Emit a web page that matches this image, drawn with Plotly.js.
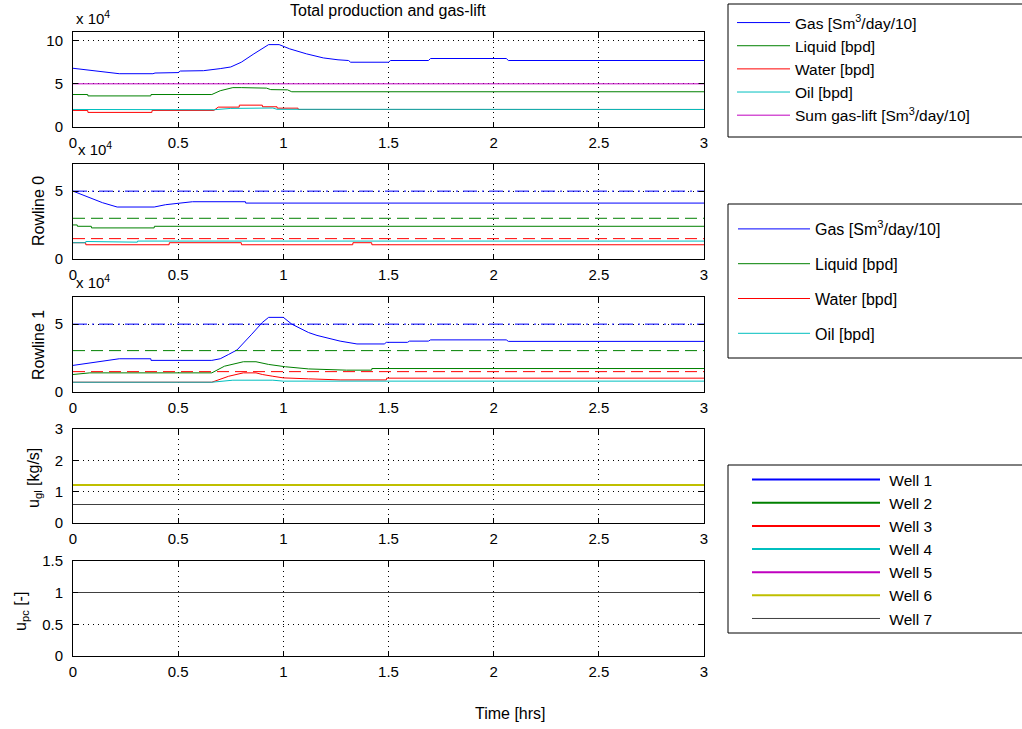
<!DOCTYPE html>
<html>
<head>
<meta charset="utf-8">
<script src="https://cdn.plot.ly/plotly-3.0.1.min.js"></script>
<style>
html,body{margin:0;padding:0;background:#fff;}
#chart{width:1022px;height:729px;}
#chart .x4y4 .scatterlayer path.js-line, #chart .x5y5 .scatterlayer path.js-line{shape-rendering:crispEdges;}
</style>
</head>
<body>
<div id="chart"></div>
<script>
// ---------- DATA (production values in units of 10^4) ----------
// Panel 1: Total production and gas-lift
var totGasT = [0, 0.045, 0.14, 0.22, 0.38, 0.39, 0.5, 0.51, 0.62, 0.66, 0.7, 0.75, 0.8, 0.86, 0.93, 0.98, 1.03, 1.11, 1.19, 1.26, 1.31, 1.32, 1.5, 1.51, 1.69, 1.7, 2.06, 2.07, 3];
var totGasV = [6.8, 6.67, 6.36, 6.17, 6.17, 6.25, 6.3, 6.48, 6.52, 6.6, 6.76, 6.95, 7.5, 8.47, 9.54, 9.54, 9.05, 8.47, 8.0, 7.78, 7.7, 7.5, 7.5, 7.7, 7.7, 7.93, 7.93, 7.7, 7.7];
var totLiqT = [0, 0.07, 0.071, 0.37, 0.371, 0.66, 0.7, 0.76, 0.8, 0.92, 0.94, 1.02, 1.04, 3];
var totLiqV = [3.76, 3.76, 3.6, 3.6, 3.76, 3.76, 4.2, 4.56, 4.56, 4.5, 4.33, 4.3, 4.08, 4.08];
var totWatT = [0, 0.07, 0.071, 0.375, 0.376, 0.67, 0.69, 0.79, 0.791, 0.9, 0.901, 0.97, 0.971, 1.07, 1.071, 3];
var totWatV = [1.92, 1.92, 1.69, 1.69, 1.92, 1.92, 2.3, 2.3, 2.53, 2.53, 2.34, 2.34, 2.18, 2.18, 2.03, 2.03];
var totOilT = [0, 0.07, 0.071, 0.37, 0.371, 0.67, 0.75, 0.95, 0.97, 3];
var totOilV = [2.03, 2.03, 1.96, 1.96, 1.98, 2.0, 2.15, 2.2, 2.05, 2.03];
var sumGlT = [0, 3];
var sumGlV = [5.0, 5.0];

// Panel 2: Rowline 0
var r0GasT = [0, 0.09, 0.14, 0.21, 0.386, 0.44, 0.497, 0.568, 0.82, 0.821, 3];
var r0GasV = [5.0, 4.44, 4.15, 3.83, 3.83, 4.0, 4.12, 4.22, 4.22, 4.12, 4.12];
var r0LiqT = [0, 0.02, 0.021, 0.087, 0.088, 0.386, 0.387, 3];
var r0LiqV = [2.51, 2.51, 2.41, 2.41, 2.29, 2.29, 2.41, 2.41];
var r0WatT = [0, 0.06, 0.061, 0.457, 0.458, 0.8, 0.801, 1.33, 1.331, 1.42, 1.421, 3];
var r0WatV = [1.2, 1.2, 1.05, 1.05, 1.2, 1.2, 1.05, 1.05, 1.2, 1.2, 1.05, 1.05];
var r0OilT = [0, 0.06, 0.061, 0.116, 0.117, 0.306, 0.307, 3];
var r0OilV = [1.2, 1.2, 1.29, 1.29, 1.24, 1.24, 1.32, 1.32];
var r0GasMax = [5.0, 5.0];
var r0LiqMax = [3.0, 3.0];
var r0WatMax = [1.5, 1.5];

// Panel 3: Rowline 1
var r1GasT = [0, 0.1, 0.22, 0.37, 0.371, 0.66, 0.7, 0.74, 0.78, 0.85, 0.9, 0.93, 1.0, 1.04, 1.12, 1.16, 1.24, 1.27, 1.35, 1.48, 1.49, 1.59, 1.6, 1.69, 1.7, 2.06, 2.07, 3];
var r1GasV = [1.96, 2.2, 2.45, 2.45, 2.33, 2.33, 2.45, 2.77, 3.1, 4.26, 5.12, 5.5, 5.5, 5.0, 4.38, 4.17, 3.87, 3.75, 3.54, 3.54, 3.66, 3.66, 3.75, 3.75, 3.84, 3.84, 3.73, 3.73];
var r1LiqT = [0, 0.08, 0.66, 0.72, 0.81, 0.87, 0.93, 1.01, 1.12, 1.3, 1.42, 1.421, 3];
var r1LiqV = [1.29, 1.41, 1.41, 1.9, 2.23, 2.23, 2.03, 1.86, 1.7, 1.61, 1.61, 1.73, 1.73];
var r1WatT = [0, 0.66, 0.74, 0.81, 0.87, 0.9, 0.95, 1.0, 1.12, 1.27, 1.49, 1.491, 3];
var r1WatV = [0.72, 0.72, 1.16, 1.41, 1.41, 1.29, 1.16, 1.04, 0.97, 0.89, 0.89, 1.02, 1.02];
var r1OilT = [0, 0.66, 0.76, 0.95, 1.0, 3];
var r1OilV = [0.72, 0.72, 0.87, 0.87, 0.8, 0.8];
var r1GasMax = [5.0, 5.0];
var r1LiqMax = [3.05, 3.05];
var r1WatMax = [1.5, 1.5];

// Panel 4/5: controls per well
var wellNames = ['Well 1', 'Well 2', 'Well 3', 'Well 4', 'Well 5', 'Well 6', 'Well 7'];
var uglValues = [1.2, 1.2, 1.2, 1.2, 1.2, 1.2, 0.6];
var upcValues = [1, 1, 1, 1, 1, 1, 1];
var ctrlT = [0, 3];

var xTicks = [0, 0.5, 1, 1.5, 2, 2.5, 3];

// ---------- STYLE ----------
var C = {blue:'#0000FF', green:'#008000', red:'#FF0000', cyan:'#00BFBF', magenta:'#BF00BF', yellow:'#BFBF00', dark:'#404040'};
var wellColors = [C.blue, C.green, C.red, C.cyan, C.magenta, C.yellow, C.dark];
var uglWidths = [2, 2, 2, 2, 2, 2, 1];
var FONT = 'Liberation Sans, Arial, Helvetica, sans-serif';
var DASHDOT = '14px,5px,2px,5px';
var DASH = '12px,6px';

function line(x, y, ax, color, name, opts) {
  opts = opts || {};
  var tr = {x: x, y: y, xaxis: 'x' + (ax === 1 ? '' : ax), yaxis: 'y' + (ax === 1 ? '' : ax),
    type: 'scatter', mode: 'lines', name: name,
    line: {color: color, width: opts.width || 1, dash: opts.dash || 'solid'},
    showlegend: !!opts.legend, hoverinfo: 'skip'};
  if (opts.legend) { tr.legend = opts.legend; }
  if (opts.group) { tr.legendgroup = opts.group; }
  return tr;
}

var traces = [];
// Panel 1
traces.push(line(totGasT, totGasV, 1, C.blue, 'Gas [Sm<sup>3</sup>/day/10]', {legend: 'legend'}));
traces.push(line(totLiqT, totLiqV, 1, C.green, 'Liquid [bpd]', {legend: 'legend'}));
traces.push(line(totWatT, totWatV, 1, C.red, 'Water [bpd]', {legend: 'legend'}));
traces.push(line(totOilT, totOilV, 1, C.cyan, 'Oil [bpd]', {legend: 'legend'}));
traces.push(line(sumGlT, sumGlV, 1, C.magenta, 'Sum gas-lift [Sm<sup>3</sup>/day/10]', {legend: 'legend'}));
// Panel 2
traces.push(line(r0GasT, r0GasV, 2, C.blue, 'Gas [Sm<sup>3</sup>/day/10]', {legend: 'legend2', group: 'a'}));
traces.push(line(r0LiqT, r0LiqV, 2, C.green, 'Liquid [bpd]', {legend: 'legend2', group: 'b'}));
traces.push(line(r0WatT, r0WatV, 2, C.red, 'Water [bpd]', {legend: 'legend2', group: 'c'}));
traces.push(line(r0OilT, r0OilV, 2, C.cyan, 'Oil [bpd]', {legend: 'legend2', group: 'd'}));
traces.push(line(ctrlT, r0GasMax, 2, C.blue, 'Gas max', {dash: DASHDOT}));
traces.push(line(ctrlT, r0LiqMax, 2, C.green, 'Liquid max', {dash: DASH}));
traces.push(line(ctrlT, r0WatMax, 2, C.red, 'Water max', {dash: DASH}));
// Panel 3
traces.push(line(r1GasT, r1GasV, 3, C.blue, 'Gas'));
traces.push(line(r1LiqT, r1LiqV, 3, C.green, 'Liquid'));
traces.push(line(r1WatT, r1WatV, 3, C.red, 'Water'));
traces.push(line(r1OilT, r1OilV, 3, C.cyan, 'Oil'));
traces.push(line(ctrlT, r1GasMax, 3, C.blue, 'Gas max', {dash: DASHDOT}));
traces.push(line(ctrlT, r1LiqMax, 3, C.green, 'Liquid max', {dash: DASH}));
traces.push(line(ctrlT, r1WatMax, 3, C.red, 'Water max', {dash: DASH}));
// Panel 4 & 5
for (var i = 0; i < wellNames.length; i++) {
  traces.push(line(ctrlT, [uglValues[i], uglValues[i]], 4, wellColors[i], '\u00a0' + wellNames[i], {legend: 'legend3', width: uglWidths[i]}));
}
for (var j = 0; j < wellNames.length; j++) {
  traces.push(line(ctrlT, [upcValues[j], upcValues[j]], 5, wellColors[j], wellNames[j], {width: 1}));
}

// ---------- LAYOUT ----------
var W = 1022, H = 729, L = 73, R = 318;
var PW = W - L - R;
function px2x(px) { return (px - L) / PW; }
function px2y(py) { return 1 - py / H; }
var panels = [[32, 127], [164, 259], [297, 392], [429, 523], [561, 656]];
var yRanges = [[0, 11], [0, 7], [0, 7], [0, 3], [0, 1.5]];
var yTicks = [[0, 5, 10], [0, 5], [0, 5], [0, 1, 2, 3], [0, 0.5, 1, 1.5]];

var layout = {
  width: W, height: H,
  margin: {l: L, r: R, t: 0, b: 0, pad: 0},
  paper_bgcolor: '#fff', plot_bgcolor: '#fff',
  font: {family: FONT, size: 15, color: '#000'},
  annotations: [], shapes: []
};
for (var k = 0; k < 5; k++) {
  var s = k === 0 ? '' : String(k + 1);
  var common = {showline: true, linecolor: '#000', linewidth: 1, mirror: 'ticks', ticks: 'inside',
    ticklen: 5, tickcolor: '#000', showgrid: true, gridcolor: '#000', gridwidth: 1, griddash: '1px,4px',
    zeroline: false, tickfont: {family: FONT, size: 15, color: '#000'}, fixedrange: true};
  layout['xaxis' + s] = Object.assign({}, common, {domain: [0, 1], anchor: 'y' + s, range: [0, 3],
    tickvals: xTicks, ticktext: xTicks.map(String), ticklabelstandoff: 2});
  layout['yaxis' + s] = Object.assign({}, common, {domain: [px2y(panels[k][1]), px2y(panels[k][0])],
    anchor: 'x' + s, range: yRanges[k], tickvals: yTicks[k], ticktext: yTicks[k].map(String), ticklabelstandoff: 6});
}

// Legends
layout.legend = {x: px2x(732), y: px2y(6), xanchor: 'left', yanchor: 'top', bgcolor: 'rgba(0,0,0,0)',
  borderwidth: 0, font: {family: FONT, size: 15.5, color: '#000'}, itemwidth: 53, tracegroupgap: 0};
layout.legend2 = {x: px2x(733), y: px2y(212), xanchor: 'left', yanchor: 'top', bgcolor: 'rgba(0,0,0,0)',
  borderwidth: 0, font: {family: FONT, size: 16, color: '#000'}, itemwidth: 72, tracegroupgap: 11};
layout.legend3 = {x: px2x(747), y: px2y(463), xanchor: 'left', yanchor: 'top', bgcolor: 'rgba(0,0,0,0)',
  borderwidth: 0, font: {family: FONT, size: 15.5, color: '#000'}, itemwidth: 128, tracegroupgap: 0};

// Legend boxes
[[4, 137], [204, 358], [465, 633]].forEach(function (b) {
  layout.shapes.push({type: 'rect', xref: 'paper', yref: 'paper', x0: px2x(728), x1: px2x(1040),
    y0: px2y(b[1]), y1: px2y(b[0]), line: {color: '#000', width: 1}, fillcolor: 'rgba(0,0,0,0)'});
});

// Texts
function ann(text, px, py, opts) {
  opts = opts || {};
  layout.annotations.push({text: text, xref: 'paper', yref: 'paper', x: px2x(px), y: px2y(py),
    xanchor: opts.xanchor || 'center', yanchor: 'middle', showarrow: false, textangle: opts.angle || 0,
    font: {family: FONT, size: opts.size || 16, color: '#000'}});
}
ann('Total production and gas-lift', 388, 11);
ann('x 10<sup>4</sup>', 74, 17, {xanchor: 'left', size: 15});
ann('x 10<sup>4</sup>', 76, 148, {xanchor: 'left', size: 15});
ann('x 10<sup>4</sup>', 74, 281, {xanchor: 'left', size: 15});
ann('Rowline 0', 39, 211, {angle: -90});
ann('Rowline 1', 39, 345, {angle: -90});
ann('u<sub>gl</sub> [kg/s]', 34, 478, {angle: -90});
ann('u<sub>pc</sub> [-]', 21, 612, {angle: -90});
ann('Time [hrs]', 510, 713);

Plotly.newPlot('chart', traces, layout, {staticPlot: true, displayModeBar: false});
</script>
</body>
</html>
